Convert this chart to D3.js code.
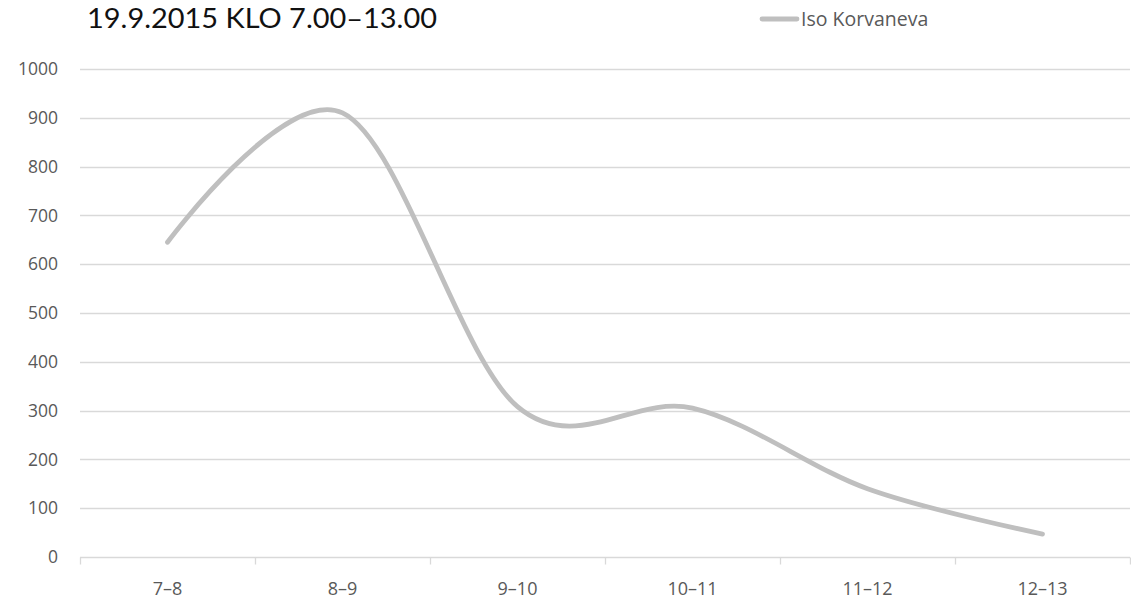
<!DOCTYPE html>
<html>
<head>
<meta charset="utf-8">
<script src="https://cdn.jsdelivr.net/npm/d3@7"></script>
<style>
  html, body { margin: 0; padding: 0; background: #fff; }
  svg { display: block; }
</style>
</head>
<body>
<svg id="chart" width="1131" height="603"></svg>
<script>
// Hourly counts, 19.9.2015
const categories = ["7–8", "8–9", "9–10", "10–11", "11–12", "12–13"];
const seriesName = "Iso Korvaneva";
const seriesValues = [645, 910, 308, 305, 140, 47];
const yTicks = [0, 100, 200, 300, 400, 500, 600, 700, 800, 900, 1000];
const titleText = "19.9.2015 KLO 7.00–13.00";

const svg = d3.select("#chart");
const margin = { left: 80, right: 1, top: 69, bottom: 46 };
const W = 1131, H = 603;

const x = d3.scaleBand()
  .domain(categories)
  .range([margin.left, W - margin.right]);

const y = d3.scaleLinear()
  .domain([0, 1000])
  .range([H - margin.bottom, margin.top]);

const labelColor = "#595959";
const gridColor = "#D9D9D9";
const axisFont = "'Open Sans', 'Liberation Sans', sans-serif";

// Horizontal gridlines
svg.append("g")
  .selectAll("line")
  .data(yTicks.filter(d => d > 0))
  .join("line")
  .attr("x1", margin.left)
  .attr("x2", W - margin.right)
  .attr("y1", d => Math.round(y(d)) + 0.5)
  .attr("y2", d => Math.round(y(d)) + 0.5)
  .attr("stroke", gridColor)
  .attr("stroke-width", 1.3);

// Y axis labels
const yAxis = svg.append("g")
  .attr("transform", `translate(${margin.left},0)`)
  .call(d3.axisLeft(y).tickValues(yTicks).tickFormat(d3.format("d")).tickSize(0).tickPadding(22));
yAxis.select(".domain").remove();
yAxis.selectAll("text")
  .attr("fill", labelColor)
  .style("font-family", axisFont)
  .style("font-size", "17.5px");

// X axis with category boundary ticks
const xAxisY = Math.round(y(0)) + 0.5;
const xg = svg.append("g");
xg.append("line")
  .attr("x1", margin.left).attr("x2", W - margin.right)
  .attr("y1", xAxisY).attr("y2", xAxisY)
  .attr("stroke", gridColor).attr("stroke-width", 1.3);
const boundaries = categories.map(c => x(c)).concat([x(categories[categories.length - 1]) + x.bandwidth()]);
xg.selectAll("line.tick")
  .data(boundaries)
  .join("line")
  .attr("class", "tick")
  .attr("x1", d => Math.round(d) + 0.5)
  .attr("x2", d => Math.round(d) + 0.5)
  .attr("y1", xAxisY)
  .attr("y2", xAxisY + 7)
  .attr("stroke", gridColor)
  .attr("stroke-width", 1.3);
xg.selectAll("text")
  .data(categories)
  .join("text")
  .attr("x", d => x(d) + x.bandwidth() / 2)
  .attr("y", xAxisY + 37)
  .attr("text-anchor", "middle")
  .attr("fill", labelColor)
  .style("font-family", axisFont)
  .style("font-size", "18px")
  .text(d => d);

// Smoothed series line
const line = d3.line()
  .x((d, i) => x(categories[i]) + x.bandwidth() / 2)
  .y(d => y(d))
  .curve(d3.curveCardinal.tension(0));

svg.append("path")
  .datum(seriesValues)
  .attr("d", line)
  .attr("fill", "none")
  .attr("stroke", "#BFBFBF")
  .attr("stroke-width", 4.8)
  .attr("stroke-linecap", "round")
  .attr("stroke-linejoin", "round");

// Title
svg.append("text")
  .attr("x", 87)
  .attr("y", 28)
  .attr("fill", "#111")
  .attr("textLength", 350)
  .attr("lengthAdjust", "spacingAndGlyphs")
  .style("font-family", "Lato, 'DejaVu Sans', sans-serif")
  .style("font-size", "26px")
  .text(titleText);

// Legend
const legend = svg.append("g");
legend.append("line")
  .attr("x1", 762).attr("x2", 797)
  .attr("y1", 19).attr("y2", 19)
  .attr("stroke", "#BFBFBF")
  .attr("stroke-width", 4.8)
  .attr("stroke-linecap", "round");
legend.append("text")
  .attr("x", 801)
  .attr("y", 26)
  .attr("fill", labelColor)
  .style("font-family", axisFont)
  .style("font-size", "19.5px")
  .text(seriesName);
</script>
</body>
</html>
